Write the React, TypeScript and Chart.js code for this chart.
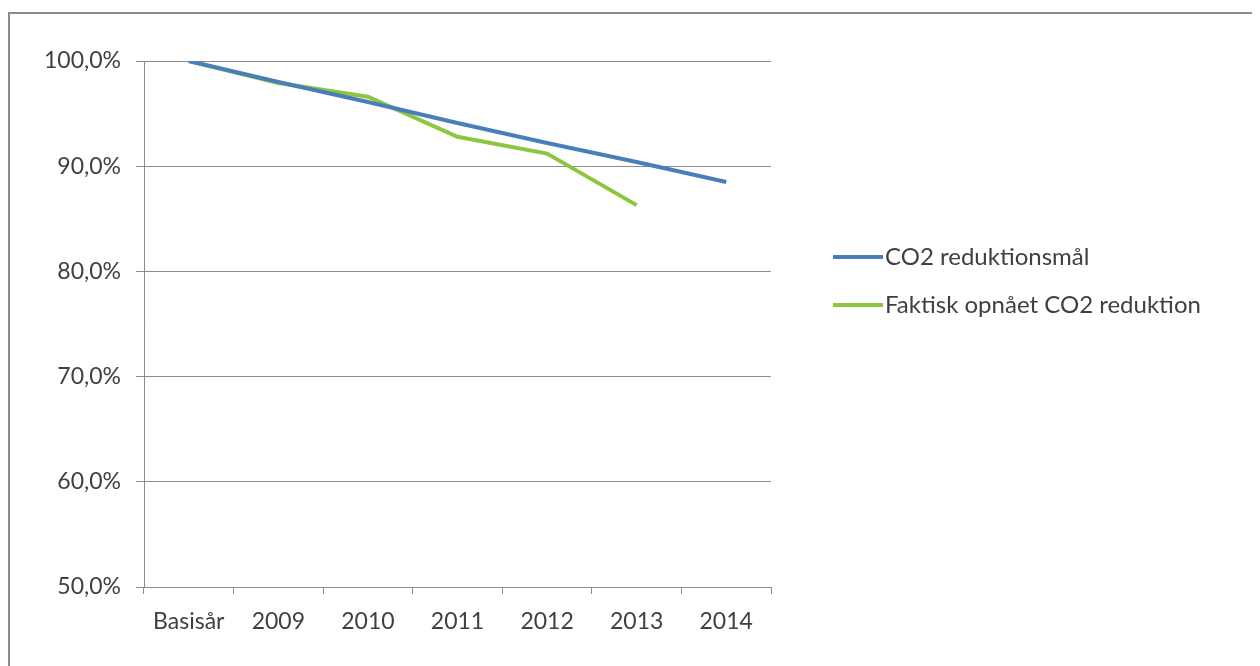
import React, { useEffect, useRef } from "react";
import { Chart, registerables } from "chart.js";

Chart.register(...registerables);

const categories = ["Basisår", "2009", "2010", "2011", "2012", "2013", "2014"];
const targetLabel = "CO2 reduktionsmål";
const targetValues = [100, 98.0, 96.1, 94.1, 92.2, 90.4, 88.5];
const actualLabel = "Faktisk opnået CO2 reduktion";
const actualValues = [100, 97.9, 96.6, 92.8, 91.2, 86.3, null];
const yTicks = [50, 60, 70, 80, 90, 100];

const FONT = "Lato, 'Open Sans', sans-serif";
const TEXT = "#404040";
const GRID = "#8c8c8c";

const legendPlugin = {
  id: "customLegend",
  afterDraw(chart: any) {
    const ctx = chart.ctx;
    const x0 = 823;
    const y0 = 243;
    const gap = 48;
    ctx.save();
    chart.data.datasets.forEach((ds: any, i: number) => {
      const y = y0 + i * gap;
      ctx.strokeStyle = ds.borderColor;
      ctx.lineWidth = 4;
      ctx.beginPath();
      ctx.moveTo(x0, y);
      ctx.lineTo(x0 + 50, y);
      ctx.stroke();
      ctx.fillStyle = TEXT;
      ctx.font = `24px ${FONT}`;
      ctx.textBaseline = "middle";
      ctx.textAlign = "left";
      ctx.fillText(ds.label, x0 + 52, y);
    });
    ctx.restore();
  },
};

export default function App() {
  const ref = useRef<HTMLCanvasElement>(null);
  useEffect(() => {
    if (!ref.current) return;
    const chart = new Chart(ref.current, {
      type: "line",
      data: {
        labels: categories,
        datasets: [
          {
            label: targetLabel,
            data: targetValues,
            borderColor: "#4a7ebb",
            backgroundColor: "#4a7ebb",
            borderWidth: 4,
            pointRadius: 0,
            tension: 0,
          },
          {
            label: actualLabel,
            data: actualValues,
            borderColor: "#8cc63f",
            backgroundColor: "#8cc63f",
            borderWidth: 4,
            pointRadius: 0,
            tension: 0,
          },
        ],
      },
      options: {
        animation: false,
        responsive: false,
        devicePixelRatio: 1,
        layout: { padding: { top: 47, right: 489, left: 0, bottom: 0 } },
        plugins: { legend: { display: false }, tooltip: { enabled: false } },
        scales: {
          x: {
            type: "category",
            offset: true,
            grid: {
              offset: true,
              drawOnChartArea: false,
              color: GRID,
              tickLength: 7,
            },
            border: { display: true, color: GRID, width: 1 },
            ticks: {
              color: TEXT,
              font: { family: FONT, size: 23 },
              padding: 14,
              maxRotation: 0,
            },
            afterFit(scale: any) {
              scale.height = 79;
            },
          },
          y: {
            min: 50,
            max: 100,
            afterBuildTicks(scale: any) {
              scale.ticks = yTicks.map((v) => ({ value: v }));
            },
            grid: { color: GRID, tickLength: 8 },
            border: { display: true, color: GRID, width: 1 },
            ticks: {
              color: TEXT,
              font: { family: FONT, size: 23 },
              padding: 15,
              callback: (v: any) => Number(v).toFixed(1).replace(".", ",") + "%",
            },
            afterFit(scale: any) {
              scale.width = 134;
            },
          },
        },
      },
      plugins: [legendPlugin],
    });
    return () => chart.destroy();
  }, []);
  return (
    <div style={{ marginTop: 4 }}>
      <div
        style={{
          width: 1260,
          height: 660,
          borderTop: "2px solid #8c8c8c",
          borderLeft: "2px solid #8c8c8c",
          position: "relative",
        }}
      >
        <canvas ref={ref} width={1250} height={652} style={{ display: "block" }} />
      </div>
    </div>
  );
}
